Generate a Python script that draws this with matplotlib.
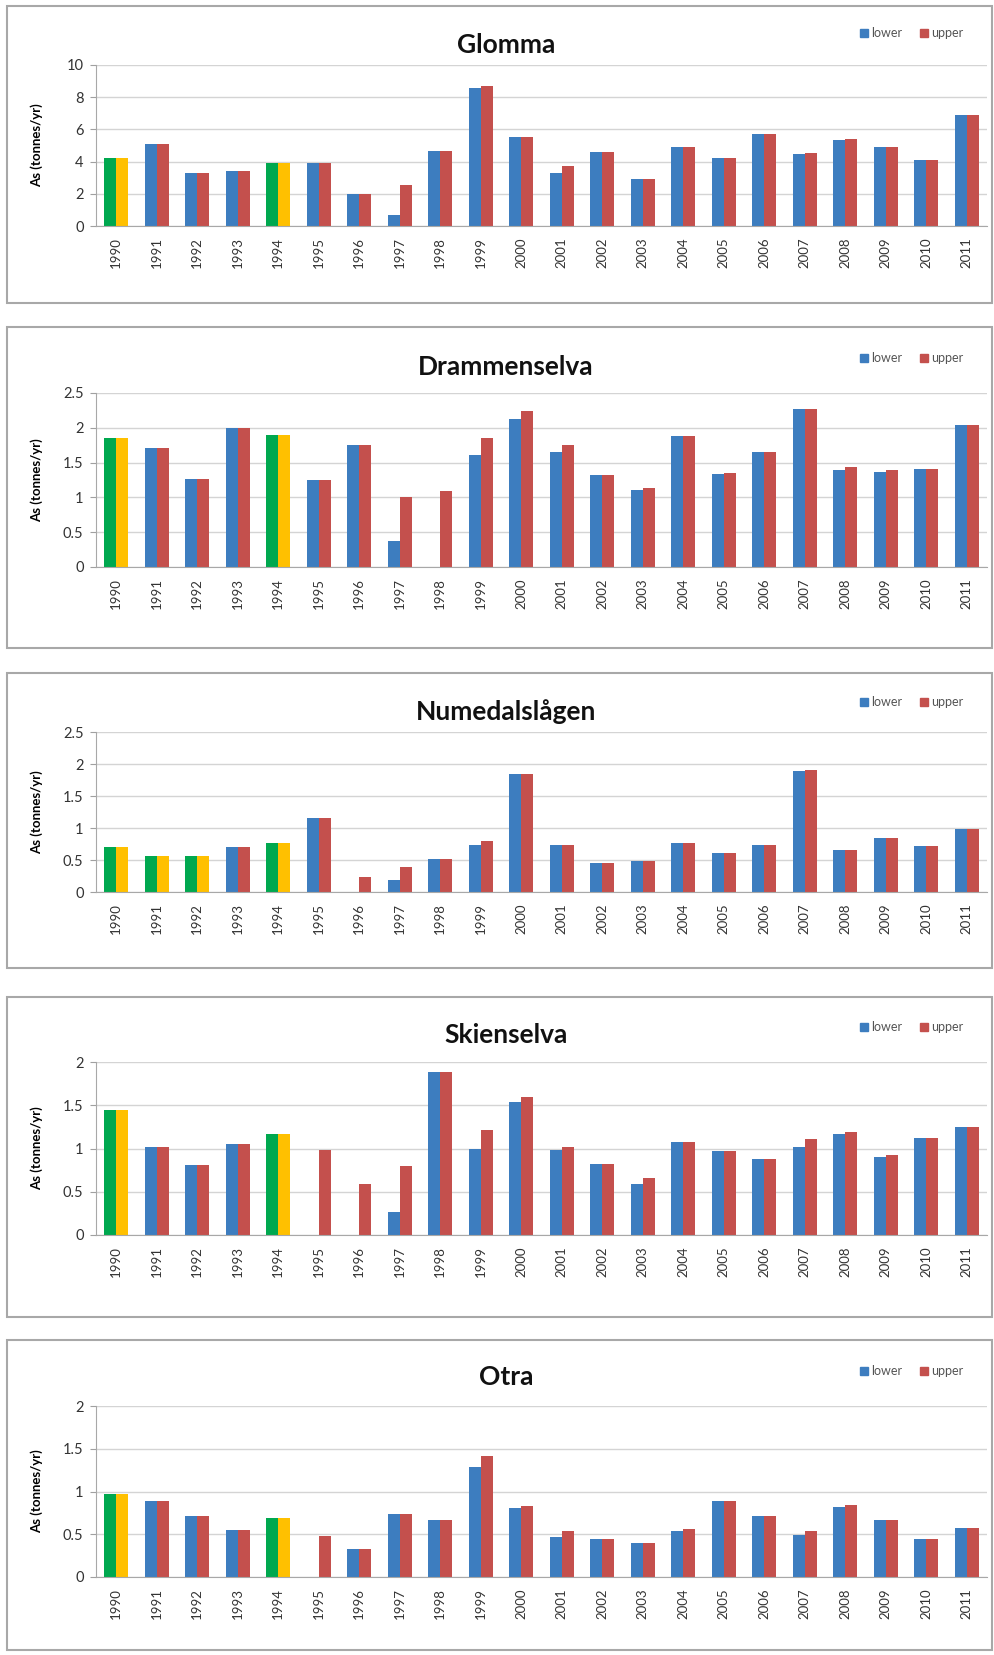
# As transport per river, lower/upper estimates 1990-2011
import matplotlib
matplotlib.use('Agg')
import matplotlib.pyplot as plt
import matplotlib.ticker as ticker
from matplotlib.patches import Rectangle, Patch
import numpy as np

plt.rcParams['font.family'] = ['Lato', 'DejaVu Sans']

years = ['1990', '1991', '1992', '1993', '1994', '1995', '1996', '1997', '1998', '1999', '2000',
         '2001', '2002', '2003', '2004', '2005', '2006', '2007', '2008', '2009', '2010', '2011']

rivers = ['Glomma', 'Drammenselva', 'Numedalslågen', 'Skienselva', 'Otra']

glomma_lower = [4.2, 5.1, 3.3, 3.4, 3.9, 3.9, 2.0, 0.7, 4.65, 8.55, 5.55,
                3.27, 4.58, 2.9, 4.9, 4.24, 5.69, 4.47, 5.34, 4.9, 4.1, 6.9]
glomma_upper = [4.2, 5.1, 3.3, 3.4, 3.9, 3.9, 2.0, 2.55, 4.65, 8.7, 5.55,
                3.73, 4.58, 2.92, 4.9, 4.24, 5.69, 4.55, 5.38, 4.9, 4.1, 6.9]

drammen_lower = [1.86, 1.71, 1.27, 1.99, 1.89, 1.25, 1.76, 0.37, 0.0, 1.61, 2.13,
                 1.65, 1.32, 1.10, 1.88, 1.34, 1.65, 2.27, 1.39, 1.36, 1.41, 2.04]
drammen_upper = [1.86, 1.71, 1.27, 1.99, 1.89, 1.25, 1.76, 1.0, 1.09, 1.86, 2.24,
                 1.76, 1.32, 1.13, 1.88, 1.35, 1.65, 2.27, 1.43, 1.39, 1.41, 2.04]

numedal_lower = [0.71, 0.56, 0.56, 0.70, 0.77, 1.16, 0.0, 0.18, 0.51, 0.73, 1.85,
                 0.74, 0.46, 0.49, 0.77, 0.61, 0.73, 1.89, 0.66, 0.85, 0.72, 0.98]
numedal_upper = [0.71, 0.56, 0.56, 0.70, 0.77, 1.16, 0.23, 0.39, 0.51, 0.79, 1.85,
                 0.74, 0.46, 0.49, 0.77, 0.61, 0.73, 1.90, 0.66, 0.85, 0.72, 0.98]

skien_lower = [1.44, 1.02, 0.81, 1.05, 1.17, 0.0, 0.0, 0.27, 1.89, 1.0, 1.54,
               0.98, 0.82, 0.59, 1.08, 0.97, 0.88, 1.02, 1.17, 0.90, 1.12, 1.25]
skien_upper = [1.44, 1.02, 0.81, 1.05, 1.17, 0.98, 0.59, 0.80, 1.89, 1.21, 1.60,
               1.02, 0.82, 0.66, 1.08, 0.97, 0.88, 1.11, 1.19, 0.92, 1.12, 1.25]

otra_lower = [0.97, 0.89, 0.71, 0.55, 0.69, 0.0, 0.33, 0.74, 0.67, 1.29, 0.81,
              0.47, 0.44, 0.40, 0.54, 0.89, 0.71, 0.49, 0.82, 0.67, 0.45, 0.57]
otra_upper = [0.97, 0.89, 0.71, 0.55, 0.69, 0.48, 0.33, 0.74, 0.67, 1.42, 0.83,
              0.54, 0.44, 0.40, 0.56, 0.89, 0.71, 0.54, 0.84, 0.67, 0.45, 0.57]

# years drawn green/yellow in each panel
highlight_years = [['1990', '1994'],
                   ['1990', '1994'],
                   ['1990', '1991', '1992', '1994'],
                   ['1990', '1994'],
                   ['1990', '1994']]

y_max = [10, 2.5, 2.5, 2, 2]
y_step = [2, 0.5, 0.5, 0.5, 0.5]

lowers = [glomma_lower, drammen_lower, numedal_lower, skien_lower, otra_lower]
uppers = [glomma_upper, drammen_upper, numedal_upper, skien_upper, otra_upper]

BLUE = '#3D7DBF'
RED = '#C4504D'
GREEN = '#00A84F'
YELLOW = '#FFC000'

W, H = 994, 1655
fig = plt.figure(figsize=(W / 100, H / 100), dpi=100)

def fx(px):
    return px / W

def fy(py):
    return 1 - py / H

# pixel layout: (box top, box bottom, axes top, axes bottom, title y, legend y)
layout = [(6, 303, 65, 226, 45, 33),
          (327, 648, 393, 567, 367, 358),
          (673, 968, 732, 892, 712, 702),
          (997, 1317, 1062, 1235, 1035, 1027),
          (1340, 1650, 1406, 1577, 1377, 1371)]

ax_left, ax_right = 96, 987
x = np.arange(len(years))
w = 0.3

for i, name in enumerate(rivers):
    btop, bbot, atop, abot, ty, ly = layout[i]
    fig.add_artist(Rectangle((fx(7), fy(bbot)), fx(985), (bbot - btop) / H,
                             transform=fig.transFigure, fill=False,
                             edgecolor='#a8a8a8', lw=1.5))
    ax = fig.add_axes([fx(ax_left), fy(abot), fx(ax_right - ax_left), (abot - atop) / H])

    hl = highlight_years[i]
    lc = [GREEN if y in hl else BLUE for y in years]
    uc = [YELLOW if y in hl else RED for y in years]
    ax.bar(x - w / 2, lowers[i], w, color=lc, linewidth=0)
    ax.bar(x + w / 2, uppers[i], w, color=uc, linewidth=0)

    ax.set_xlim(-0.5, len(years) - 0.5)
    ax.set_ylim(0, y_max[i])
    ax.set_yticks(np.arange(0, y_max[i] + 0.001, y_step[i]))
    ax.yaxis.set_major_formatter(ticker.FormatStrFormatter('%g'))
    ax.set_xticks(x)
    ax.set_xticklabels(years, rotation=90, fontsize=9.5, color='#333333')
    ax.tick_params(axis='x', length=0, pad=8)
    ax.tick_params(axis='y', length=4, color='#a0a0a0', labelsize=10.5,
                   labelcolor='#333333', pad=5)
    ax.yaxis.grid(True, color='#d4d4d4', lw=1)
    ax.set_axisbelow(True)
    for s in ['top', 'right']:
        ax.spines[s].set_visible(False)
    for s in ['left', 'bottom']:
        ax.spines[s].set_color('#a8a8a8')
    ax.set_ylabel('As (tonnes/yr)', fontsize=9.5, fontweight='bold', labelpad=6)
    ax.yaxis.set_label_coords(fx(43 - ax_left) / fx(ax_right - ax_left), 0.5)

    fig.text(fx(506), fy(ty), name, ha='center', va='center',
             fontsize=19, fontweight='bold', color='#111111')
    handles = [Patch(color=BLUE), Patch(color=RED)]
    fig.legend(handles, ['lower', 'upper'], loc='center', bbox_to_anchor=(fx(912), fy(ly)),
               ncol=2, frameon=False, fontsize=9, handlelength=0.6, handleheight=0.6,
               columnspacing=1.4, handletextpad=0.3, labelcolor='#555555')

plt.savefig('out.png', dpi=100)
